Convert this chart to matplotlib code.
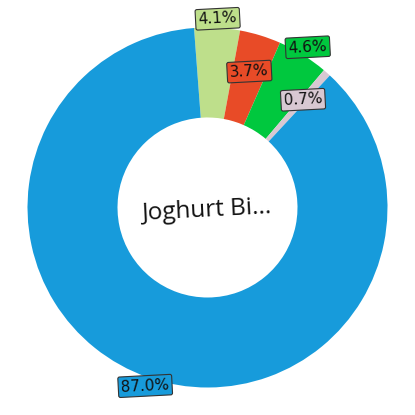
import numpy as np
import matplotlib
matplotlib.use("Agg")
import matplotlib.pyplot as plt

# slice data (clockwise from top-left)
labels = ["4.1%", "3.7%", "4.6%", "0.7%", "87.0%"]
values = [4.1, 3.7, 4.6, 0.7, 87.0]
colors = ["#bedf8b", "#e84b27", "#00c83e", "#d8c8d2", "#179bdb"]
# labels alternate between outside the ring and inside the ring
label_radius = [1.05, 0.79, 1.05, 0.80, 1.05]
center_text = "Joghurt Bi..."

fig = plt.figure(figsize=(4.15, 4.15), dpi=100)
ax = fig.add_axes([0, 0, 1, 1])

start = 94.3
wedges, _ = ax.pie(values, colors=colors, startangle=start, counterclock=False,
                   radius=1.0, wedgeprops=dict(width=0.5, linewidth=0))

total = sum(values)
angle = start
for lab, v, col, r in zip(labels, values, colors, label_radius):
    span = v / total * 360
    mid = np.deg2rad(angle - span / 2)
    angle -= span
    ax.text(r * np.cos(mid), r * np.sin(mid), lab, ha="center", va="center",
            fontsize=11, color="#111111", rotation=3,
            bbox=dict(boxstyle="round,pad=0.18,rounding_size=0.12",
                      fc=col, ec="#333333", lw=0.8))

ax.text(0, -0.02, center_text, ha="center", va="center", fontsize=17.5,
        family="Open Sans", color="#111111", rotation=3)

lim = 207.5 / 180
ax.set_xlim(-lim, lim)
ax.set_ylim(-lim, lim)
ax.set_aspect("equal")
ax.axis("off")

fig.savefig("out.png", dpi=100)
